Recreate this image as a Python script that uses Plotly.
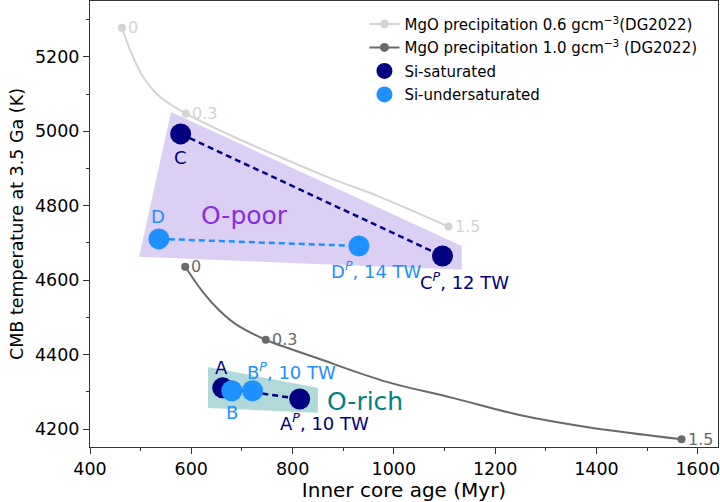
import plotly.graph_objects as go

# ---- data ----
# MgO precipitation curves (curve samples)
light_curve_x = [463, 479, 505, 538, 589, 676, 775, 873, 972, 1108]
light_curve_y = [5278, 5219, 5146, 5093, 5048, 4990, 4931, 4875, 4824, 4744]
light_pts_x = [463, 589, 1108]
light_pts_y = [5278, 5048, 4744]
light_pts_lab = ["0", "0.3", "1.5"]

dark_curve_x = [588, 623, 656, 690, 747, 848, 986, 1116, 1248, 1380, 1568]
dark_curve_y = [4636, 4568, 4518, 4480, 4440, 4391, 4327, 4284, 4238, 4206, 4173]
dark_pts_x = [588, 747, 1568]
dark_pts_y = [4636, 4440, 4173]
dark_pts_lab = ["0", "0.3", "1.5"]

# scenario points
sat_names = ["C", "C<sup><i>P</i></sup>", "A", "A<sup><i>P</i></sup>"]
sat_x = [579, 1096, 662, 814]
sat_y = [4993, 4665, 4311, 4281]
unsat_names = ["D", "D<sup><i>P</i></sup>", "B", "B<sup><i>P</i></sup>"]
unsat_x = [536, 931, 680, 721]
unsat_y = [4711, 4692, 4303, 4303]

# regions
opoor_x = [560, 497, 1134, 1134]
opoor_y = [5052, 4663, 4628, 4692]
orich_x = [633, 633, 850, 850]
orich_y = [4367, 4257, 4244, 4311]

# point labels
lab_text = ["C", "C<sup><i>P</i></sup>, 12 TW", "D", "D<sup><i>P</i></sup>, 14 TW",
            "A", "B", "B<sup><i>P</i></sup>, 10 TW", "A<sup><i>P</i></sup>, 10 TW"]
lab_x = [578, 1140, 534, 966, 660, 680, 798, 864]
lab_y = [4929, 4598, 4770, 4628, 4365, 4244, 4357, 4220]
lab_col = ["navy", "navy", "dodgerblue", "dodgerblue", "navy", "dodgerblue", "dodgerblue", "navy"]

region_text = ["O-poor", "O-rich"]
region_x = [706, 942]
region_y = [4773, 4273]
region_col = ["#8a2be2", "teal"]

LIGHT = "#d3d3d3"
DARK = "#696969"
FONT = "DejaVu Sans"

fig = go.Figure()

# regions
fig.add_trace(go.Scatter(x=opoor_x, y=opoor_y, fill="toself", mode="lines",
                         line=dict(width=0), fillcolor="rgba(147,112,219,0.33)",
                         showlegend=False, hoverinfo="skip"))
fig.add_trace(go.Scatter(x=orich_x, y=orich_y, fill="toself", mode="lines",
                         line=dict(width=0), fillcolor="rgba(0,128,128,0.3)",
                         showlegend=False, hoverinfo="skip"))

# curves
fig.add_trace(go.Scatter(x=light_curve_x, y=light_curve_y, mode="lines",
                         line=dict(color=LIGHT, width=2, shape="spline"), showlegend=False))
fig.add_trace(go.Scatter(x=light_pts_x, y=light_pts_y, mode="markers",
                         marker=dict(color=LIGHT, size=8), showlegend=False))
fig.add_trace(go.Scatter(x=dark_curve_x, y=dark_curve_y, mode="lines",
                         line=dict(color=DARK, width=2, shape="spline"), showlegend=False))
fig.add_trace(go.Scatter(x=dark_pts_x, y=dark_pts_y, mode="markers",
                         marker=dict(color=DARK, size=8), showlegend=False))

# legend entries for curves
fig.add_trace(go.Scatter(x=[None], y=[None], mode="lines+markers",
                         line=dict(color=LIGHT, width=2), marker=dict(color=LIGHT, size=9),
                         name="MgO precipitation 0.6 gcm<sup>−3</sup>(DG2022)", legendgroup="a"))
fig.add_trace(go.Scatter(x=[None], y=[None], mode="lines+markers",
                         line=dict(color=DARK, width=2), marker=dict(color=DARK, size=9),
                         name="MgO precipitation 1.0 gcm<sup>−3</sup> (DG2022)", legendgroup="b"))

# dashed connectors
pairs = [(sat_x, sat_y, 0, 1, "navy"), (unsat_x, unsat_y, 0, 1, "dodgerblue"),
         (unsat_x, unsat_y, 2, 3, "dodgerblue"), (sat_x, sat_y, 2, 3, "navy")]
for xs, ys, i, j, c in pairs:
    fig.add_trace(go.Scatter(x=[xs[i], xs[j]], y=[ys[i], ys[j]], mode="lines",
                             line=dict(color=c, width=2.5, dash="6px,4px"), showlegend=False))

# scenario points
fig.add_trace(go.Scatter(x=sat_x, y=sat_y, mode="markers", text=sat_names,
                         marker=dict(color="navy", size=21), name="Si-saturated", legendgroup="c"))
fig.add_trace(go.Scatter(x=unsat_x, y=unsat_y, mode="markers", text=unsat_names,
                         marker=dict(color="dodgerblue", size=21), name="Si-undersaturated",
                         legendgroup="d"))

# curve labels
for xs, ys, labs, c in [(light_pts_x, light_pts_y, light_pts_lab, LIGHT),
                        (dark_pts_x, dark_pts_y, dark_pts_lab, DARK)]:
    for x, y, t in zip(xs, ys, labs):
        fig.add_annotation(x=x, y=y, text=t, showarrow=False, xanchor="left", xshift=4,
                           font=dict(family=FONT, size=16, color=c))

for x, y, t, c in zip(lab_x, lab_y, lab_text, lab_col):
    fig.add_annotation(x=x, y=y, text=t, showarrow=False,
                       font=dict(family=FONT, size=18, color=c))
for x, y, t, c in zip(region_x, region_y, region_text, region_col):
    fig.add_annotation(x=x, y=y, text=t, showarrow=False,
                       font=dict(family=FONT, size=25, color=c))

axis_common = dict(showline=True, linecolor="#333", linewidth=1, mirror=True,
                   ticks="outside", ticklen=6, tickwidth=1, tickcolor="#333",
                   showgrid=False, zeroline=False, ticklabeloverflow="allow",
                   tickfont=dict(family=FONT, size=17.5, color="black"),
                   minor=dict(ticks="outside", ticklen=3, tickcolor="#333", dtick=100))

fig.update_xaxes(range=[400, 1640], dtick=200, tick0=400,
                 title=dict(text="Inner core age (Myr)", font=dict(family=FONT, size=20, color="black"),
                            standoff=2),
                 **axis_common)
fig.update_yaxes(range=[4152, 5350], dtick=200, tick0=4200,
                 title=dict(text="CMB temperature at 3.5 Ga (K)", font=dict(family=FONT, size=17.5, color="black"),
                            standoff=6),
                 **axis_common)

fig.update_layout(
    width=720, height=502,
    margin=dict(l=90, r=2, t=1, b=55),
    plot_bgcolor="white", paper_bgcolor="white",
    font=dict(family=FONT, size=13, color="black"),
    showlegend=True,
    legend=dict(x=0.437, y=0.985, xanchor="left", yanchor="top",
                font=dict(family=FONT, size=15, color="black"),
                bgcolor="rgba(255,255,255,0)", borderwidth=0,
                traceorder="grouped", tracegroupgap=1),
)

fig.write_html("out.html", config={"displayModeBar": False},
               post_script="document.body.style.margin='0px';")
